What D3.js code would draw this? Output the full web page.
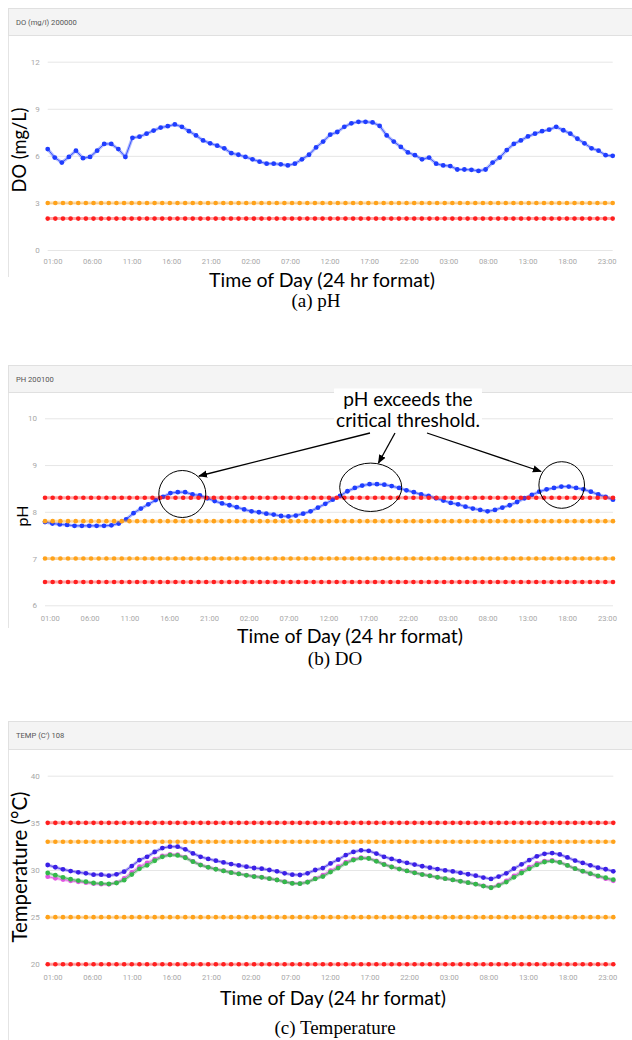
<!DOCTYPE html>
<html><head><meta charset="utf-8">
<script src="https://cdn.jsdelivr.net/npm/d3@7"></script>
<style>body{margin:0;background:#fff;} svg{display:block;}</style>
</head><body>
<svg id="c" width="632" height="1040"></svg>
<script>
// ---------------- DATA ----------------
const startHour = 0.4, endHour = 71.76;            // time span of samples (hours from day-1 00:00)
const tickHours = [1,6,11,16,21,26,31,36,41,46,51,56,61,66,71];
const tickLabels = ["01:00","06:00","11:00","16:00","21:00","02:00","07:00","12:00","17:00","22:00","03:00","08:00","13:00","18:00","23:00"];
const thresholdSamples = 75;

const doTicks = [0,3,6,9,12];
const doThresholds = [3, 2];
const doValues = [6.43,5.89,5.57,5.93,6.33,5.85,5.93,6.33,6.76,6.76,
  6.43,5.93,7.15,7.22,7.41,7.61,7.80,7.89,8.00,7.85,
  7.57,7.30,6.98,6.80,6.65,6.48,6.17,6.07,5.93,5.78,
  5.63,5.50,5.50,5.46,5.39,5.50,5.78,6.07,6.54,6.91,
  7.35,7.52,7.85,8.07,8.17,8.17,8.13,7.91,7.30,6.91,
  6.57,6.22,6.04,5.78,5.89,5.50,5.39,5.35,5.13,5.13,
  5.11,5.04,5.13,5.57,5.89,6.37,6.76,6.98,7.24,7.41,
  7.57,7.67,7.85,7.63,7.41,7.09,6.80,6.48,6.33,6.04,6.00];

const phTicks = [6,7,8,9,10];
const phThresholds = [8.3, 7.8, 7.0, 6.5];
const phValues = [7.78,7.75,7.73,7.72,7.70,7.70,7.70,7.70,7.70,7.71,
  7.75,7.84,7.97,8.07,8.16,8.25,8.32,8.40,8.42,8.42,8.37,
  8.35,8.29,8.23,8.18,8.14,8.10,8.05,8.01,7.99,7.96,
  7.94,7.91,7.90,7.92,7.96,8.01,8.09,8.17,8.26,8.34,
  8.44,8.51,8.56,8.59,8.59,8.58,8.55,8.51,8.46,8.42,
  8.37,8.34,8.29,8.24,8.19,8.16,8.11,8.07,8.04,8.01,
  8.04,8.09,8.14,8.21,8.29,8.36,8.43,8.48,8.51,8.54,
  8.54,8.51,8.48,8.43,8.37,8.32,8.26];

const tempTicks = [20,25,30,35,40];
const tempThresholds = [35, 33, 25, 20];
const tempSensorA = [30.53,30.29,30.07,29.89,29.75,29.65,29.50,29.50,29.40,29.54,
  29.82,30.42,31.05,31.40,31.91,32.33,32.47,32.47,32.19,31.76,
  31.40,31.17,30.99,30.80,30.63,30.49,30.35,30.21,30.14,30.00,
  29.86,29.65,29.50,29.47,29.65,30.00,30.20,30.70,31.10,31.58,
  31.92,32.09,32.03,31.74,31.40,31.17,30.95,30.76,30.57,30.40,
  30.25,30.10,29.96,29.85,29.70,29.55,29.40,29.20,29.05,29.30,
  29.65,30.15,30.60,31.05,31.45,31.72,31.80,31.65,31.33,31.00,
  30.75,30.50,30.25,30.08,29.86];
const tempSensorB = [29.29,29.12,28.98,28.85,28.75,28.66,28.55,28.50,28.48,28.66,
  29.10,29.75,30.35,30.75,31.15,31.50,31.66,31.62,31.35,30.92,
  30.55,30.30,30.10,29.92,29.74,29.60,29.45,29.32,29.23,29.09,
  28.95,28.76,28.60,28.56,28.74,29.12,29.45,29.92,30.35,30.82,
  31.15,31.32,31.26,30.96,30.61,30.34,30.12,29.91,29.71,29.53,
  29.39,29.23,29.09,28.96,28.81,28.67,28.51,28.32,28.15,28.42,
  28.85,29.38,29.85,30.30,30.70,30.95,31.02,30.84,30.50,30.14,
  29.86,29.58,29.32,29.08,28.85];
const tempSensorC = [29.68,29.45,29.22,29.02,28.88,28.76,28.62,28.58,28.52,28.62,
  28.92,29.52,30.12,30.50,30.98,31.40,31.58,31.55,31.30,30.88,
  30.52,30.28,30.08,29.90,29.72,29.58,29.44,29.30,29.22,29.08,
  28.94,28.74,28.58,28.55,28.70,29.05,29.30,29.78,30.20,30.70,
  31.05,31.25,31.22,30.92,30.58,30.32,30.10,29.90,29.70,29.52,
  29.38,29.22,29.08,28.95,28.80,28.66,28.50,28.30,28.12,28.35,
  28.72,29.22,29.68,30.12,30.55,30.85,30.95,30.80,30.48,30.14,
  29.88,29.62,29.38,29.18,28.97];

// ---------------- STYLE / LAYOUT ----------------
const RED = "#ff1f1f", ORANGE = "#ffa21a";
const SANS = "Lato, 'Open Sans', sans-serif";
const svg = d3.select("#c");

// scale a text's font size so that it spans the target width
function fit(sel, target){
  const w = sel.node().getComputedTextLength();
  const fs = parseFloat(sel.attr("font-size"));
  if (w > 0) sel.attr("font-size", fs * target / w);
  return sel;
}

const panels = [
  {title:"DO (mg/l) 200000", headTop:8, headBot:35, borderBot:277,
   xr:[47.7,612.7], yr:[250,61.7], domain:[0,12], ticks:doTicks,
   series:[{values:doValues,color:"#1f3dff"}],
   thr:doThresholds, thrColors:[ORANGE, RED],
   yTitle:"DO (mg/L)", yTitleW:85, yTitleX:19, yTitleY:150,
   xLabelY:262.7, xTitleX:322, xTitleY:279, caption:"(a) pH", capX:316, capY:300},
  {title:"PH 200100", headTop:365, headBot:392, borderBot:628,
   xr:[45,613], yr:[605.3,418.3], domain:[6,10], ticks:phTicks,
   series:[{values:phValues,color:"#1f3dff"}],
   thr:phThresholds, thrColors:[RED, ORANGE, ORANGE, RED],
   yTitle:"pH", yTitleW:21, yTitleX:21, yTitleY:516,
   xLabelY:619.3, xTitleX:350, xTitleY:635, caption:"(b) DO", capX:335, capY:658},
  {title:"TEMP (C') 108", headTop:721, headBot:749, borderBot:1040,
   xr:[47.7,613.3], yr:[964.3,775.7], domain:[20,40], ticks:tempTicks,
   series:[{values:tempSensorB,color:"#e256e2"},{values:tempSensorC,color:"#33b84a"},{values:tempSensorA,color:"#3a1fe6"}],
   thr:tempThresholds, thrColors:[RED, ORANGE, ORANGE, RED],
   yTitle:"Temperature (°C)", yTitleW:151, yTitleX:19, yTitleY:867,
   xLabelY:978.7, xTitleX:333, xTitleY:997, caption:"(c) Temperature", capX:335, capY:1027}
];

function sampleTimes(n){ return d3.range(n).map(i => startHour + i*(endHour-startHour)/(n-1)); }

panels.forEach(p => {
  const g = svg.append("g");
  const x = d3.scaleLinear().domain([startHour,endHour]).range(p.xr);
  const y = d3.scaleLinear().domain(p.domain).range(p.yr);

  // card
  g.append("line").attr("x1",8.5).attr("x2",8.5).attr("y1",p.headTop).attr("y2",p.borderBot)
    .attr("stroke","#e4e4e4");
  g.append("rect").attr("x",8.5).attr("y",p.headTop+0.5).attr("width",640).attr("height",p.headBot-p.headTop)
    .attr("fill","#f4f4f4").attr("stroke","#e0e0e0");
  g.append("text").attr("x",16).attr("y",(p.headTop+p.headBot)/2+3)
    .attr("font-family","Roboto, sans-serif").attr("font-size",7.6).attr("fill","#555").text(p.title);

  // gridlines & y ticks
  const yAxis = d3.axisLeft(y).tickValues(p.ticks).tickFormat(d3.format("d"))
    .tickSize(-(p.xr[1]-p.xr[0])).tickPadding(8);
  const ya = g.append("g").attr("transform",`translate(${p.xr[0]},0)`).call(yAxis);
  ya.select(".domain").remove();
  ya.selectAll(".tick line").attr("stroke","#e6e6e6");
  ya.selectAll(".tick text").attr("font-family","Roboto, sans-serif").attr("font-size",8).attr("fill","#a8a8a8");

  // x tick labels
  const xAxis = d3.axisBottom(x).tickValues(tickHours).tickFormat((d,i)=>tickLabels[i]).tickSize(0).tickPadding(0);
  const xa = g.append("g").attr("transform",`translate(0,${p.xLabelY-4})`).call(xAxis);
  xa.select(".domain").remove();
  xa.selectAll(".tick text").attr("font-family","Roboto, sans-serif").attr("font-size",7.6).attr("fill","#a8a8a8")
    .attr("dy","0.71em");

  // data series
  p.series.forEach(s => {
    const t = sampleTimes(s.values.length);
    const pts = s.values.map((v,i)=>[t[i],v]);
    const line = d3.line().x(d=>x(d[0])).y(d=>y(d[1]));
    g.append("path").datum(pts).attr("d",line).attr("fill","none")
      .attr("stroke",s.color).attr("stroke-opacity",0.35).attr("stroke-width",3.2);
    g.append("path").datum(pts).attr("d",line).attr("fill","none")
      .attr("stroke",s.color).attr("stroke-opacity",0.8).attr("stroke-width",1);
    g.selectAll(null).data(pts).enter().append("circle")
      .attr("cx",d=>x(d[0])).attr("cy",d=>y(d[1])).attr("r",2.4).attr("fill",s.color);
  });

  // thresholds
  const tt = sampleTimes(thresholdSamples);
  p.thr.forEach((v,k) => {
    const c = p.thrColors[k];
    const pts = tt.map(t=>[t,v]);
    g.append("line").attr("x1",x(startHour)).attr("x2",x(endHour)).attr("y1",y(v)).attr("y2",y(v))
      .attr("stroke",c).attr("stroke-opacity",0.4).attr("stroke-width",3);
    g.selectAll(null).data(pts).enter().append("circle")
      .attr("cx",d=>x(d[0])).attr("cy",d=>y(d[1])).attr("r",2.3).attr("fill",c);
  });

  // axis titles
  fit(g.append("text").attr("transform",`translate(${p.yTitleX},${p.yTitleY}) rotate(-90)`)
    .attr("text-anchor","middle").attr("dominant-baseline","central")
    .attr("font-family",SANS).attr("font-size",18).attr("fill","#000").text(p.yTitle), p.yTitleW);
  fit(g.append("text").attr("x",p.xTitleX).attr("y",p.xTitleY).attr("text-anchor","middle").attr("dominant-baseline","central")
    .attr("font-family",SANS).attr("font-size",18).attr("fill","#000").text("Time of Day (24 hr format)"), 226);
  g.append("text").attr("x",p.capX).attr("y",p.capY).attr("text-anchor","middle").attr("dominant-baseline","central")
    .attr("font-family","'Liberation Serif', 'Times New Roman', serif").attr("font-size",19).attr("fill","#000").text(p.caption);
});

// ---------------- ANNOTATION (pH panel) ----------------
const defs = svg.append("defs");
defs.append("marker").attr("id","arr").attr("viewBox","0 0 10 10").attr("refX",9).attr("refY",5)
  .attr("markerWidth",9).attr("markerHeight",9).attr("markerUnits","userSpaceOnUse").attr("orient","auto")
  .append("path").attr("d","M0,1 L10,5 L0,9 Z").attr("fill","#000");

const ann = svg.append("g");
const bg = ann.append("rect").attr("fill","#fff");
const l1 = ann.append("text").attr("x",408).attr("y",398).attr("text-anchor","middle").attr("dominant-baseline","central")
  .attr("font-family",SANS).attr("font-size",17).text("pH exceeds the");
const l2 = ann.append("text").attr("x",408).attr("y",419).attr("text-anchor","middle").attr("dominant-baseline","central")
  .attr("font-family",SANS).attr("font-size",17).text("critical threshold.");
fit(l2, 144);
l1.attr("font-size", l2.attr("font-size"));
const b1 = l1.node().getBBox(), b2 = l2.node().getBBox();
bg.attr("x",Math.min(b1.x,b2.x)-2).attr("y",b1.y+2).attr("width",Math.max(b1.width,b2.width)+4)
  .attr("height",b2.y+b2.height-b1.y-4);

const ellipses = [[182.3,494,23.5,23.5],[370.7,487.3,31,24.2],[561.7,485,22.8,23.3]];
ellipses.forEach(e => ann.append("ellipse").attr("cx",e[0]).attr("cy",e[1]).attr("rx",e[2]).attr("ry",e[3])
  .attr("fill","none").attr("stroke","#000").attr("stroke-width",1));
const arrows = [[370,433,199,476],[395,433,378.5,463],[427,433,541,471.5]];
arrows.forEach(a => ann.append("line").attr("x1",a[0]).attr("y1",a[1]).attr("x2",a[2]).attr("y2",a[3])
  .attr("stroke","#000").attr("stroke-width",1.3).attr("marker-end","url(#arr)"));
</script>
</body></html>
